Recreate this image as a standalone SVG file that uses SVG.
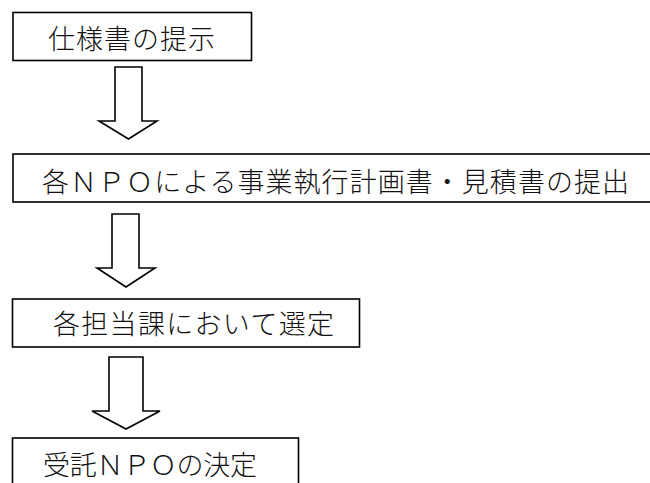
<svg xmlns="http://www.w3.org/2000/svg" width="650" height="483" viewBox="0 0 650 483">
<style>
.box{fill:#fff;stroke:#000;stroke-width:1.6}
.lbl{font-family:"Noto Sans CJK JP","Noto Sans",sans-serif;font-size:27px;font-weight:300;fill:#111}
.arr{fill:#fff;stroke:#000;stroke-width:1.6;stroke-linejoin:miter}
</style>
<rect width="650" height="483" fill="#fff"/>
<g id="node-spec">
<rect class="box" x="13" y="12.5" width="238.5" height="48"/>
<text class="lbl" x="48" y="49" textLength="167" lengthAdjust="spacing">仕様書の提示</text>
</g>
<g id="node-submit">
<rect class="box" x="13" y="154" width="660" height="48"/>
<text class="lbl" x="42" y="192" textLength="587" lengthAdjust="spacing">各ＮＰＯによる事業執行計画書・見積書の提出</text>
</g>
<g id="node-select">
<rect class="box" x="12.5" y="299" width="347" height="48"/>
<text class="lbl" x="53" y="334" textLength="281" lengthAdjust="spacing">各担当課において選定</text>
</g>
<g id="node-decide">
<rect class="box" x="12.5" y="438" width="286" height="70"/>
<text class="lbl" x="43" y="475" textLength="214" lengthAdjust="spacing">受託ＮＰＯの決定</text>
</g>
<g id="connectors">
<polygon class="arr" points="115,67 142,67 142,121 157,121 128.5,139 99,121 115,121"/>
<polygon class="arr" points="112,214 139,214 139,268 155,268 126,287 97,268 112,268"/>
<polygon class="arr" points="109,357 143,357 143,411 160,411 126,429 92,411 109,411"/>
</g>
</svg>
